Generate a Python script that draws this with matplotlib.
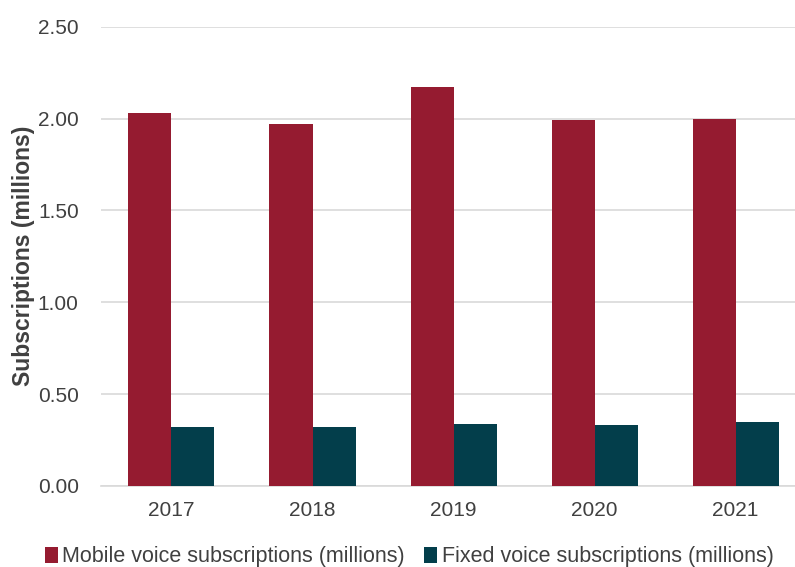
import numpy as np
import matplotlib
matplotlib.use("Agg")
import matplotlib.pyplot as plt

# 数据
years = ["2017", "2018", "2019", "2020", "2021"]
mobile = [2.03, 1.97, 2.17, 1.99, 2.00]
fixed = [0.323, 0.323, 0.336, 0.33, 0.347]

plt.rcParams['font.family'] = ['Liberation Sans', 'DejaVu Sans']

fig = plt.figure(figsize=(7.95, 5.67), dpi=100)
ax = fig.add_axes([0.127, 0.143, 0.887, 0.81])

x = np.arange(len(years))
w = 0.305
ax.bar(x - w / 2, mobile, w, color="#951B30", label="Mobile voice subscriptions (millions)", zorder=3)
ax.bar(x + w / 2, fixed, w, color="#033E4B", label="Fixed voice subscriptions (millions)", zorder=3)

ax.set_xlim(-0.5, len(years) - 0.5)
ax.set_ylim(0, 2.5)
ax.set_yticks(np.arange(0, 2.51, 0.5))
ax.set_yticklabels([f"{v:.2f}" for v in np.arange(0, 2.51, 0.5)])
ax.set_xticks(x)
ax.set_xticklabels(years)

ax.yaxis.grid(True, color="#D9D9D9", linewidth=1.2, zorder=0)
for s in ["top", "right", "left"]:
    ax.spines[s].set_visible(False)
ax.spines["bottom"].set_color("#D9D9D9")
ax.spines["bottom"].set_linewidth(1.2)
ax.tick_params(axis="both", length=0, labelsize=15, colors="#404040")
ax.tick_params(axis="x", pad=11)
ax.tick_params(axis="y", pad=16)

ax.set_ylabel("Subscriptions (millions)", fontsize=16.5, fontweight="bold", color="#404040", labelpad=2)

fig.legend(loc="lower center", bbox_to_anchor=(0.515, -0.035), ncol=2, frameon=False,
           fontsize=15.5, handlelength=0.6, handleheight=0.8, handletextpad=0.2,
           columnspacing=0.9, labelcolor="#404040")

fig.savefig("out.png", dpi=100)
